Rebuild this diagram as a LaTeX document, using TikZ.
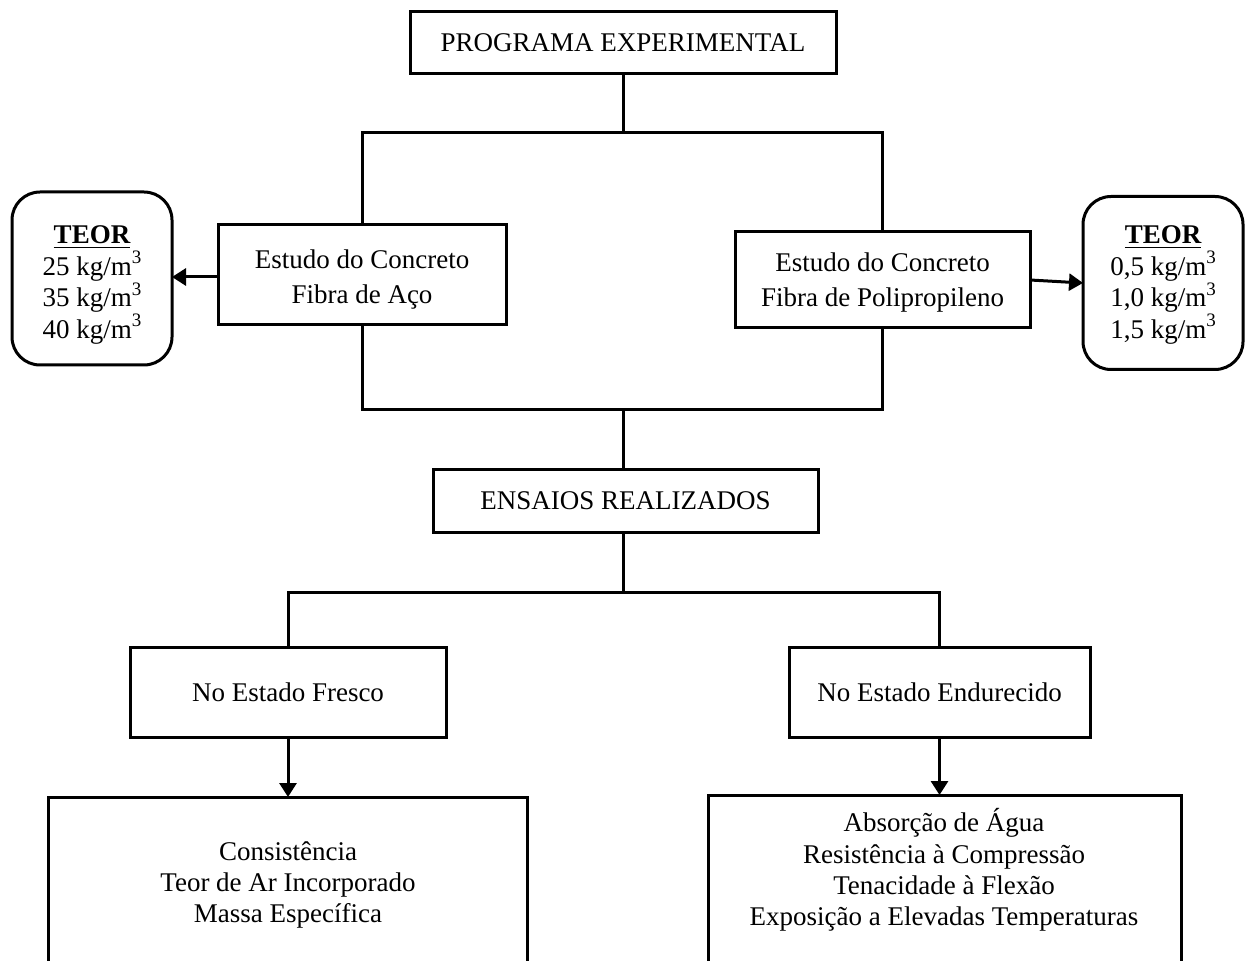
\documentclass[tikz,border=0pt]{standalone}
\usepackage{fontspec}
\setmainfont{Liberation Serif}
\usetikzlibrary{arrows.meta}
\newcommand{\cubo}{kg/m\raisebox{0.42em}{\fontsize{9.5}{10}\selectfont 3}}
\tikzset{
  box/.style={draw, line width=1.5pt, outer sep=0pt, inner sep=0pt, align=center},
  teor/.style={draw, line width=1.5pt, outer sep=0pt, inner sep=0pt, rounded corners=14pt, minimum width=80pt, minimum height=86.5pt},
  txt/.style={align=center, inner sep=0pt},
  conn/.style={line width=1.5pt},
  arr/.style={line width=1.5pt, -{Triangle[length=7pt,width=8.5pt]}},
}
\begin{document}
\begin{tikzpicture}[x=0.5pt,y=-0.5pt,font=\fontsize{13.5}{15.7}\selectfont]
\useasboundingbox (0,0) rectangle (1245,961);
\node[box, minimum width=213pt, minimum height=31pt] (prog) at (623,43) {PROGRAMA EXPERIMENTAL};
\node[box, minimum width=144pt, minimum height=50pt] (aco) at (362,275) {};
\node[txt, font=\fontsize{13.5}{17.5}\selectfont] (acoT) at (362,279.5) {Estudo do Concreto\\Fibra de Aço};
\node[box, minimum width=147.5pt, minimum height=48pt] (poli) at (882.5,280) {};
\node[txt, font=\fontsize{13.5}{17.5}\selectfont] (poliT) at (882.5,283) {Estudo do Concreto\\Fibra de Polipropileno};
\node[teor] (teorL) at (92,278.5) {};
\node[txt] (teorLT) at (92,285) {\textbf{\underline{TEOR}}\\25 \cubo\\35 \cubo\\40 \cubo};
\node[teor] (teorR) at (1163,283) {};
\node[txt] (teorRT) at (1163,285) {\textbf{\underline{TEOR}}\\0,5 \cubo\\1,0 \cubo\\1,5 \cubo};
\node[box, minimum width=192.5pt, minimum height=31pt] (ens) at (625.5,501) {ENSAIOS REALIZADOS};
\node[box, minimum width=158pt, minimum height=45pt] (fres) at (288,692) {No Estado Fresco};
\node[box, minimum width=150.5pt, minimum height=45pt] (endu) at (939.5,692) {No Estado Endurecido};
\node[box, minimum width=239.5pt, minimum height=90pt, anchor=north] (fresB) at (287.5,797) {};
\node[box, minimum width=236.5pt, minimum height=90pt, anchor=north] (enduB) at (944.5,795) {};
\node[txt] (fresT) at (288,885) {Consistência\\Teor de Ar Incorporado\\Massa Específica};
\node[txt] (enduT) at (944,870) {Absorção de Água\\Resistência à Compressão\\Tenacidade à Flexão\\Exposição a Elevadas Temperaturas};
\coordinate (j1) at (623,133);
\coordinate (j2) at (623,410);
\coordinate (j3) at (623,592);
\draw[conn] (prog.south) -- (j1);
\draw[conn] (aco.north) |- (j1) -| (poli.north);
\draw[conn] (aco.south) |- (j2) -| (poli.south);
\draw[conn] (j2) -- (j2 |- ens.north);
\draw[conn] (ens.south -| j3) -- (j3);
\draw[conn] (fres.north) |- (j3) -| (endu.north);
\draw[arr] (aco.west |- 0,277) -- (teorL.east |- 0,277);
\draw[arr] (poli.east) -- (teorR.west);
\draw[arr] (fres.south) -- (fres.south |- fresB.north);
\draw[arr] (endu.south) -- (endu.south |- enduB.north);
\end{tikzpicture}
\end{document}
